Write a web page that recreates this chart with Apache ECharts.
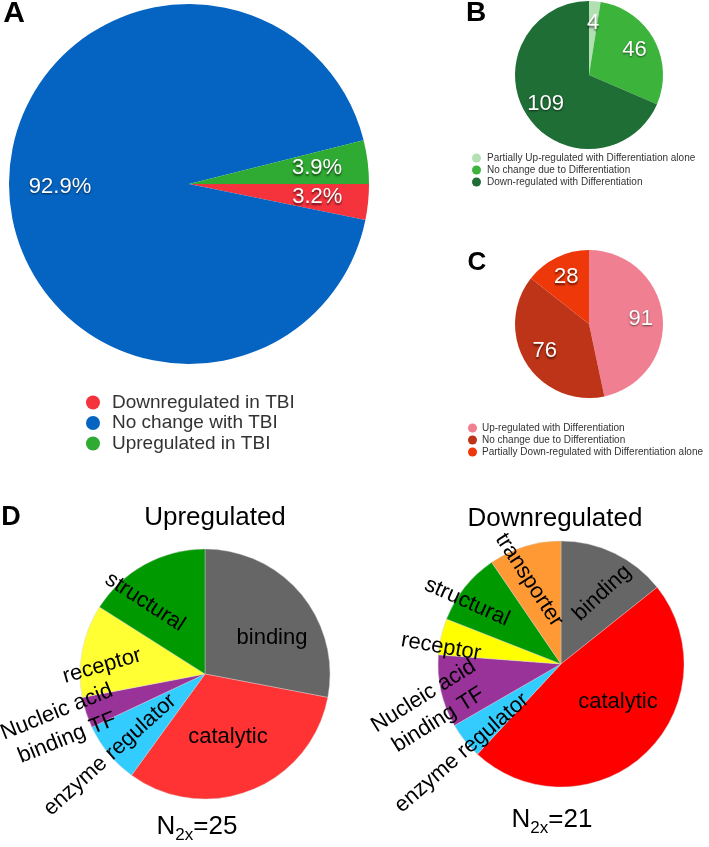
<!DOCTYPE html>
<html><head><meta charset="utf-8">
<script src="https://cdn.jsdelivr.net/npm/echarts@6/dist/echarts.min.js"></script>
<style>html,body{margin:0;padding:0;background:#fff}#c{width:709px;height:847px}</style>
</head><body><div id="c"></div>
<script>
// ---------- data ----------
const aNames = ['Downregulated in TBI', 'No change with TBI', 'Upregulated in TBI'];
const aValues = [3.2, 92.9, 3.9];

const bNames = ['Partially Up-regulated with Differentiation alone', 'No change due to Differentiation', 'Down-regulated with Differentiation'];
const bValues = [4, 46, 109];

const cNames = ['Up-regulated with Differentiation', 'No change due to Differentiation ', 'Partially Down-regulated with Differentiation alone'];
const cValues = [91, 76, 28];

const dCategories = ['binding', 'catalytic', 'enzyme regulator', 'Nucleic acid\nbinding TF', 'receptor', 'structural', 'transporter'];
const dUpValues = [7, 8, 2, 1, 3, 4, 0];
const dDownValues = [3, 10, 1, 2, 1, 2, 2];
const dUpTitle = 'Upregulated';
const dDownTitle = 'Downregulated';
const dUpN = 25;
const dDownN = 21;

// ---------- styles / layout ----------
const aColors = ['#f5333d', '#0563c1', '#2faa32'];
const bColors = ['#b3e0b3', '#3cb43c', '#1f6e36'];
const cColors = ['#f08091', '#be3418', '#ee380a'];
const dUpColors = ['#666666', '#ff3333', '#33ccff', '#993399', '#ffff33', '#009900', '#ff9933'];
const dDownColors = ['#666666', '#ff0000', '#33ccff', '#993399', '#ffff00', '#009900', '#ff9933'];

const FONT = 'Liberation Sans, Arial, Helvetica, sans-serif';
const A_C = [189, 184], A_R = 180;
const B_C = [589, 75], B_R = 74;
const C_C = [589, 324], C_R = 74;
const UP_C = [205, 674], UP_R = 125;
const DN_C = [561, 664], DN_R = 123;
// label offsets from pie centre [dx, dy, rotation]
const upLabelPos = [[67, -36, 0], [23, 63, 0], [-95, 81, 42], [-143, 51, 22], [-103, -8, 16], [-60, -72, -33]];
const dnLabelPos = [[41, -71, 43], [57, 38, 0], [-99, 89, 41], [-130, 44, 32], [-120, -17, -10], [-94, -62, -24], [-32, -84, -57]];

const whiteLabel = {
  show: true, position: 'inside', color: '#fff', fontFamily: FONT, fontSize: 22,
  textShadowColor: 'rgba(0,0,0,0.6)', textShadowBlur: 2, textShadowOffsetY: 1.5
};

function mainPie(names, values, colors, center, r, startAngle) {
  return {
    type: 'pie', center: center, radius: r, startAngle: startAngle, clockwise: true,
    label: { show: false }, labelLine: { show: false }, emphasis: { disabled: true },
    avoidLabelOverlap: false, silent: true,
    data: values.map((v, i) => ({ name: names[i], value: v, itemStyle: { color: colors[i] } }))
  };
}
function labelPie(values, center, r0, r, startAngle, fmt) {
  return {
    type: 'pie', center: center, radius: [r0, r], startAngle: startAngle, clockwise: true,
    silent: true, emphasis: { disabled: true }, avoidLabelOverlap: false,
    itemStyle: { color: 'rgba(0,0,0,0)' },
    label: Object.assign({ formatter: fmt }, whiteLabel), labelLine: { show: false },
    data: values.map(v => ({ value: v }))
  };
}
function dPie(values, colors, center, r, pos) {
  const data = [];
  values.forEach((v, i) => { if (v > 0) data.push({ name: dCategories[i], value: v, itemStyle: { color: colors[i] } }); });
  return {
    type: 'pie', center: center, radius: r, startAngle: 90, clockwise: true,
    silent: true, emphasis: { disabled: true }, avoidLabelOverlap: false,
    itemStyle: { borderColor: 'rgba(210,210,210,0.7)', borderWidth: 0.6 },
    label: { show: true, position: 'inside', color: '#000', fontFamily: FONT, fontSize: 22, lineHeight: 28, formatter: '{b}' },
    labelLine: { show: false },
    labelLayout: function (p) {
      const o = pos[p.dataIndex];
      return { x: center[0] + o[0], y: center[1] + o[1], rotate: o[2], align: 'center', verticalAlign: 'middle' };
    },
    data: data
  };
}
function letter(t, x, y, size) {
  return { type: 'text', x: x, y: y, style: { text: t, font: 'bold ' + size + 'px ' + FONT, fill: '#000', align: 'center', verticalAlign: 'middle' } };
}
function plain(t, x, y, size) {
  return { type: 'text', x: x, y: y, style: { text: t, font: size + 'px ' + FONT, fill: '#000', align: 'center', verticalAlign: 'middle' } };
}
function nLabel(n, x, y) {
  return {
    type: 'text', x: x, y: y,
    style: {
      text: '{m|N}{s|2x}{m|=' + n + '}', fill: '#000', align: 'center', verticalAlign: 'middle',
      rich: {
        m: { fontSize: 26, fontFamily: FONT, verticalAlign: 'bottom', padding: [0, 0, 4, 0], color: '#000' },
        s: { fontSize: 17, fontFamily: FONT, verticalAlign: 'bottom', color: '#000' }
      }
    }
  };
}

const chart = echarts.init(document.getElementById('c'), null, { renderer: 'canvas' });
chart.setOption({
  animation: false,
  backgroundColor: '#fff',
  legend: [
    { data: aNames, orient: 'vertical', left: 86, top: 393, padding: 0, icon: 'circle', itemWidth: 28, itemHeight: 14, itemGap: 1.5,
      selectedMode: false, textStyle: { fontSize: 19, color: '#333', fontFamily: FONT } },
    { data: bNames, orient: 'vertical', left: 472, top: 153, padding: 0, icon: 'circle', itemWidth: 11, itemHeight: 9, itemGap: 2,
      selectedMode: false, textStyle: { fontSize: 10, color: '#333', fontFamily: FONT } },
    { data: cNames, orient: 'vertical', left: 468, top: 423, padding: 0, icon: 'circle', itemWidth: 9, itemHeight: 9, itemGap: 2,
      selectedMode: false, textStyle: { fontSize: 10, color: '#333', fontFamily: FONT } }
  ],
  series: [
    mainPie(aNames, aValues, aColors, A_C, A_R, 0),
    mainPie(bNames, bValues, bColors, B_C, B_R, 90),
    mainPie(cNames, cValues, cColors, C_C, C_R, 90),
    labelPie(aValues, A_C, A_R * 0.4, A_R, 0, '{c}%'),
    labelPie(bValues, B_C, 24, B_R, 90, '{c}'),
    labelPie(cValues, C_C, 24, C_R, 90, '{c}'),
    dPie(dUpValues, dUpColors, UP_C, UP_R, upLabelPos),
    dPie(dDownValues, dDownColors, DN_C, DN_R, dnLabelPos)
  ],
  graphic: [
    letter('A', 14, 14, 30),
    letter('B', 476, 13, 28),
    letter('C', 477, 263, 26),
    letter('D', 11, 518, 27),
    plain(dUpTitle, 215, 518, 26),
    plain(dDownTitle, 555, 519, 26),
    nLabel(dUpN, 197, 829),
    nLabel(dDownN, 552, 822)
  ]
});
</script></body></html>
